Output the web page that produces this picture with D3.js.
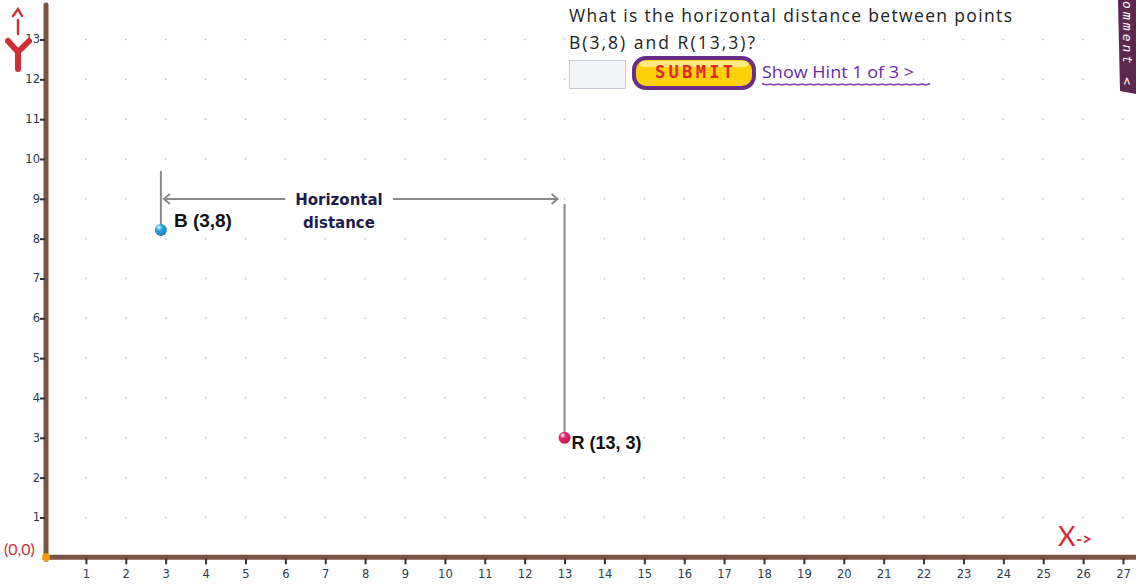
<!DOCTYPE html>
<html>
<head>
<meta charset="utf-8">
<script src="https://cdn.jsdelivr.net/npm/d3@7"></script>
<style>
  body { margin: 0; background: #fff; overflow: hidden; }
  svg { display: block; }
</style>
</head>
<body>
<div id="chart"></div>
<script>
// data
const xTicks = d3.range(1, 28);           // 1..27
const yTicks = d3.range(1, 14);           // 1..13
const pointNames = ["B", "R"];
const pointX = [2.88, 13];                // where the marks sit on the picture
const pointY = [8.22, 3];
const pointLabels = ["B (3,8)", "R (13, 3)"];
const pointColors = ["#2aa6e0", "#e8246c"];
const questionLines = ["What is the horizontal distance between points", "B(3,8) and R(13,3)?"];

const W = 1136, H = 588;
const svg = d3.select("#chart").append("svg").attr("width", W).attr("height", H);

const x = d3.scaleLinear().domain([0, 27]).range([46, 1123]);
const y = d3.scaleLinear().domain([0, 13]).range([557.3, 39.5]);

// grid dots
const grid = [];
xTicks.forEach(i => yTicks.forEach(j => grid.push([i, j])));
svg.append("g").selectAll("rect")
    .data(grid)
    .enter().append("rect")
    .attr("x", d => x(d[0]) - 0.75)
    .attr("y", d => y(d[1]) - 0.75)
    .attr("width", 1.5)
    .attr("height", 1.5)
    .attr("fill", "#c4c4c4");

// axes lines
svg.append("line")
    .attr("x1", x(0)).attr("x2", x(0))
    .attr("y1", 5).attr("y2", y(0) + 2)
    .attr("stroke", "#7b5446").attr("stroke-width", 5).attr("stroke-linecap", "round");
svg.append("line")
    .attr("x1", x(0)).attr("x2", W)
    .attr("y1", y(0)).attr("y2", y(0))
    .attr("stroke", "#7b5446").attr("stroke-width", 5);

// x axis ticks + labels
const xAxis = d3.axisBottom(x).tickValues(xTicks).tickSize(6).tickPadding(6);
const gx = svg.append("g")
    .attr("transform", "translate(0," + (y(0) + 1) + ")")
    .call(xAxis);
gx.select(".domain").remove();
gx.selectAll(".tick line").attr("stroke", "#333").attr("stroke-width", 2);
gx.selectAll(".tick text")
    .attr("fill", "#2e3a4e")
    .style("font-family", "DejaVu Sans, sans-serif")
    .style("font-size", "11.5px");

// y axis ticks + labels
const yAxis = d3.axisLeft(y).tickValues(yTicks).tickSize(5).tickPadding(0);
const gy = svg.append("g")
    .attr("transform", "translate(" + (x(0) - 1) + ",0)")
    .call(yAxis);
gy.select(".domain").remove();
gy.selectAll(".tick line").attr("stroke", "#333").attr("stroke-width", 2);
gy.selectAll(".tick text")
    .attr("fill", "#2e3a4e")
    .attr("dy", "0.3em")
    .style("font-family", "DejaVu Sans, sans-serif")
    .style("font-size", "11.5px");

// origin
svg.append("circle").attr("cx", x(0)).attr("cy", y(0)).attr("r", 4).attr("fill", "#f59a0c");
svg.append("text")
    .attr("x", 4).attr("y", 555)
    .attr("fill", "#c8323a")
    .style("font-family", "Lato, sans-serif")
    .style("font-size", "16px")
    .text("(0,0)");

// axis names (hand drawn look)
const yName = svg.append("g").attr("stroke", "#cf2e34").attr("fill", "none").attr("stroke-linecap", "round");
yName.append("path").attr("d", "M13,16 L18,9 L22,16").attr("stroke-width", 2.4);
yName.append("path").attr("d", "M18,20 L18,34").attr("stroke-width", 2.4);
yName.append("path").attr("d", "M8,41 L18,52 L29,41 M18,52 L18,69").attr("stroke-width", 6);

svg.append("text")
    .attr("x", 1058).attr("y", 546)
    .attr("fill", "#cf2e34")
    .style("font-family", "Lato, sans-serif")
    .style("font-size", "27px")
    .text("X");
svg.append("text")
    .attr("x", 1076).attr("y", 545)
    .attr("fill", "#cf2e34")
    .style("font-family", "Lato, sans-serif")
    .style("font-weight", "bold")
    .style("font-size", "17px")
    .text("->");

// horizontal distance guide
const b = { x: x(pointX[0]), y: y(pointY[0]) };
const r = { x: x(pointX[1]), y: y(pointY[1]) };
const arrowY = 199;
const guide = svg.append("g").attr("stroke", "#8a8a8a").attr("stroke-width", 2).attr("fill", "none");
guide.append("line").attr("x1", b.x).attr("x2", b.x).attr("y1", 171).attr("y2", b.y);
guide.append("line").attr("x1", r.x).attr("x2", r.x).attr("y1", 204).attr("y2", r.y);
guide.append("line").attr("x1", b.x + 3).attr("x2", 285).attr("y1", arrowY).attr("y2", arrowY);
guide.append("line").attr("x1", 393).attr("x2", r.x - 8).attr("y1", arrowY).attr("y2", arrowY);
guide.append("path").attr("d", `M${b.x + 9},${arrowY - 5} L${b.x + 3},${arrowY} L${b.x + 9},${arrowY + 5}`);
guide.append("path").attr("d", `M${r.x - 13},${arrowY - 5} L${r.x - 7},${arrowY} L${r.x - 13},${arrowY + 5}`);

svg.append("text")
    .attr("x", 339).attr("y", 205)
    .attr("text-anchor", "middle")
    .attr("fill", "#1c1c4e")
    .style("font-family", "DejaVu Sans, sans-serif")
    .style("font-weight", "bold")
    .style("font-size", "15px")
    .text("Horizontal");
svg.append("text")
    .attr("x", 339).attr("y", 228)
    .attr("text-anchor", "middle")
    .attr("fill", "#1c1c4e")
    .style("font-family", "DejaVu Sans, sans-serif")
    .style("font-weight", "bold")
    .style("font-size", "15px")
    .text("distance");

// points
const defs = svg.append("defs");
pointNames.forEach((n, i) => {
    const g = defs.append("radialGradient").attr("id", "grad" + n).attr("cx", "35%").attr("cy", "30%").attr("r", "70%");
    g.append("stop").attr("offset", "0%").attr("stop-color", "#fff").attr("stop-opacity", 0.8);
    g.append("stop").attr("offset", "35%").attr("stop-color", pointColors[i]);
    g.append("stop").attr("offset", "100%").attr("stop-color", d3.color(pointColors[i]).darker(0.6));
});
svg.append("g").selectAll("circle")
    .data(pointNames)
    .enter().append("circle")
    .attr("cx", (d, i) => x(pointX[i]))
    .attr("cy", (d, i) => y(pointY[i]))
    .attr("r", 6)
    .attr("fill", d => "url(#grad" + d + ")");

svg.append("text")
    .attr("x", x(pointX[0]) + 13).attr("y", y(pointY[0]) - 3)
    .style("font-family", "Liberation Sans, Arial, sans-serif")
    .style("font-weight", "bold").style("font-size", "19px")
    .attr("fill", "#111")
    .text(pointLabels[0]);
svg.append("text")
    .attr("x", x(pointX[1]) + 7).attr("y", y(pointY[1]) + 11)
    .style("font-family", "Liberation Sans, Arial, sans-serif")
    .style("font-weight", "bold").style("font-size", "18px")
    .attr("fill", "#111")
    .text(pointLabels[1]);

// question
svg.append("text")
    .attr("x", 569).attr("y", 22)
    .attr("fill", "#222")
    .attr("textLength", 443).attr("lengthAdjust", "spacing")
    .style("font-family", "Open Sans, sans-serif")
    .style("font-size", "17.5px")
    .text(questionLines[0]);
svg.append("text")
    .attr("x", 569).attr("y", 49)
    .attr("fill", "#222")
    .attr("textLength", 186).attr("lengthAdjust", "spacing")
    .style("font-family", "Open Sans, sans-serif")
    .style("font-size", "17.5px")
    .text(questionLines[1]);

// answer box
svg.append("rect")
    .attr("x", 569.5).attr("y", 60.5).attr("width", 56).attr("height", 28)
    .attr("fill", "#f3f5f9").attr("stroke", "#c5cdd8");

// submit button
svg.append("rect")
    .attr("x", 634).attr("y", 58).attr("width", 120).attr("height", 30).attr("rx", 12)
    .attr("fill", "#ffd10a").attr("stroke", "#6a2c88").attr("stroke-width", 4);
svg.append("rect")
    .attr("x", 640).attr("y", 61).attr("width", 108).attr("height", 6).attr("rx", 3)
    .attr("fill", "#fff6b0").attr("opacity", 0.7);
svg.append("text")
    .attr("x", 694).attr("y", 78)
    .attr("text-anchor", "middle")
    .attr("fill", "#e2262c")
    .attr("textLength", 78).attr("lengthAdjust", "spacing")
    .style("font-family", "DejaVu Sans Mono, monospace")
    .style("font-weight", "bold")
    .style("font-size", "17px")
    .text("SUBMIT");

// hint link
svg.append("text")
    .attr("x", 762).attr("y", 78)
    .attr("fill", "#6a2aa8")
    .attr("textLength", 152).attr("lengthAdjust", "spacingAndGlyphs")
    .style("font-family", "Open Sans, sans-serif")
    .style("font-size", "17px")
    .text("Show Hint 1 of 3 >");
const wave = d3.range(0, 170, 4).map((d, i) => [762 + d, 84 + (i % 2 ? 1.3 : -0.5)]);
svg.append("path")
    .attr("d", d3.line().curve(d3.curveBasis)(wave))
    .attr("fill", "none").attr("stroke", "#7b3cb0").attr("stroke-width", 1.5);

// comment tab
svg.append("path")
    .attr("d", "M1118,0 L1136,0 L1136,94 L1120,91 Z")
    .attr("fill", "#5c2850");
svg.append("text")
    .attr("transform", "translate(1123,1) rotate(90)")
    .attr("fill", "#fff")
    .attr("textLength", 84).attr("lengthAdjust", "spacing")
    .style("font-family", "DejaVu Sans Mono, monospace")
    .style("font-style", "italic")
    .style("font-size", "13px")
    .text("omment <");
</script>
</body>
</html>
